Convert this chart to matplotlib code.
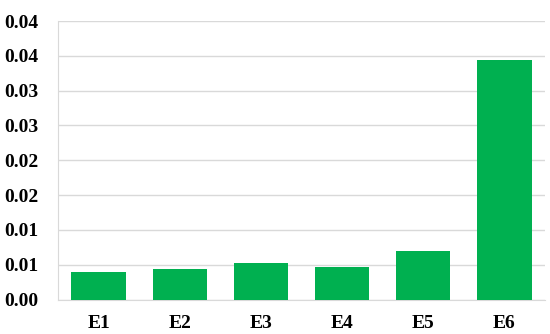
import matplotlib.pyplot as plt

categories = ['E1', 'E2', 'E3', 'E4', 'E5', 'E6']
values = [0.00395, 0.00442, 0.00524, 0.00462, 0.00701, 0.0344]
yticks = [0, 0.005, 0.01, 0.015, 0.02, 0.025, 0.03, 0.035, 0.04]
ytick_labels = ['0.00', '0.01', '0.01', '0.02', '0.02', '0.03', '0.03', '0.04', '0.04']

plt.rcParams['font.family'] = 'Liberation Serif'
plt.rcParams['font.weight'] = 'bold'

fig = plt.figure(figsize=(5.5, 3.34), dpi=100)
ax = fig.add_axes([58 / 550, 1 - 299.5 / 334, 487 / 550, 278.5 / 334])

ax.bar(categories, values, width=0.67, color='#00B050', zorder=3)

ax.set_ylim(0, 0.04)
ax.set_xlim(-0.5, 5.5)
ax.set_yticks(yticks)
ax.set_yticklabels(ytick_labels)
ax.grid(axis='y', color='#d9d9d9', linewidth=1, zorder=0)
ax.tick_params(length=0, labelsize=14)
ax.tick_params(axis='y', pad=14)
ax.tick_params(axis='x', pad=11)
for s in ['top', 'right']:
    ax.spines[s].set_visible(False)
for s in ['left', 'bottom']:
    ax.spines[s].set_color('#d9d9d9')

fig.savefig('out.png', dpi=100)
